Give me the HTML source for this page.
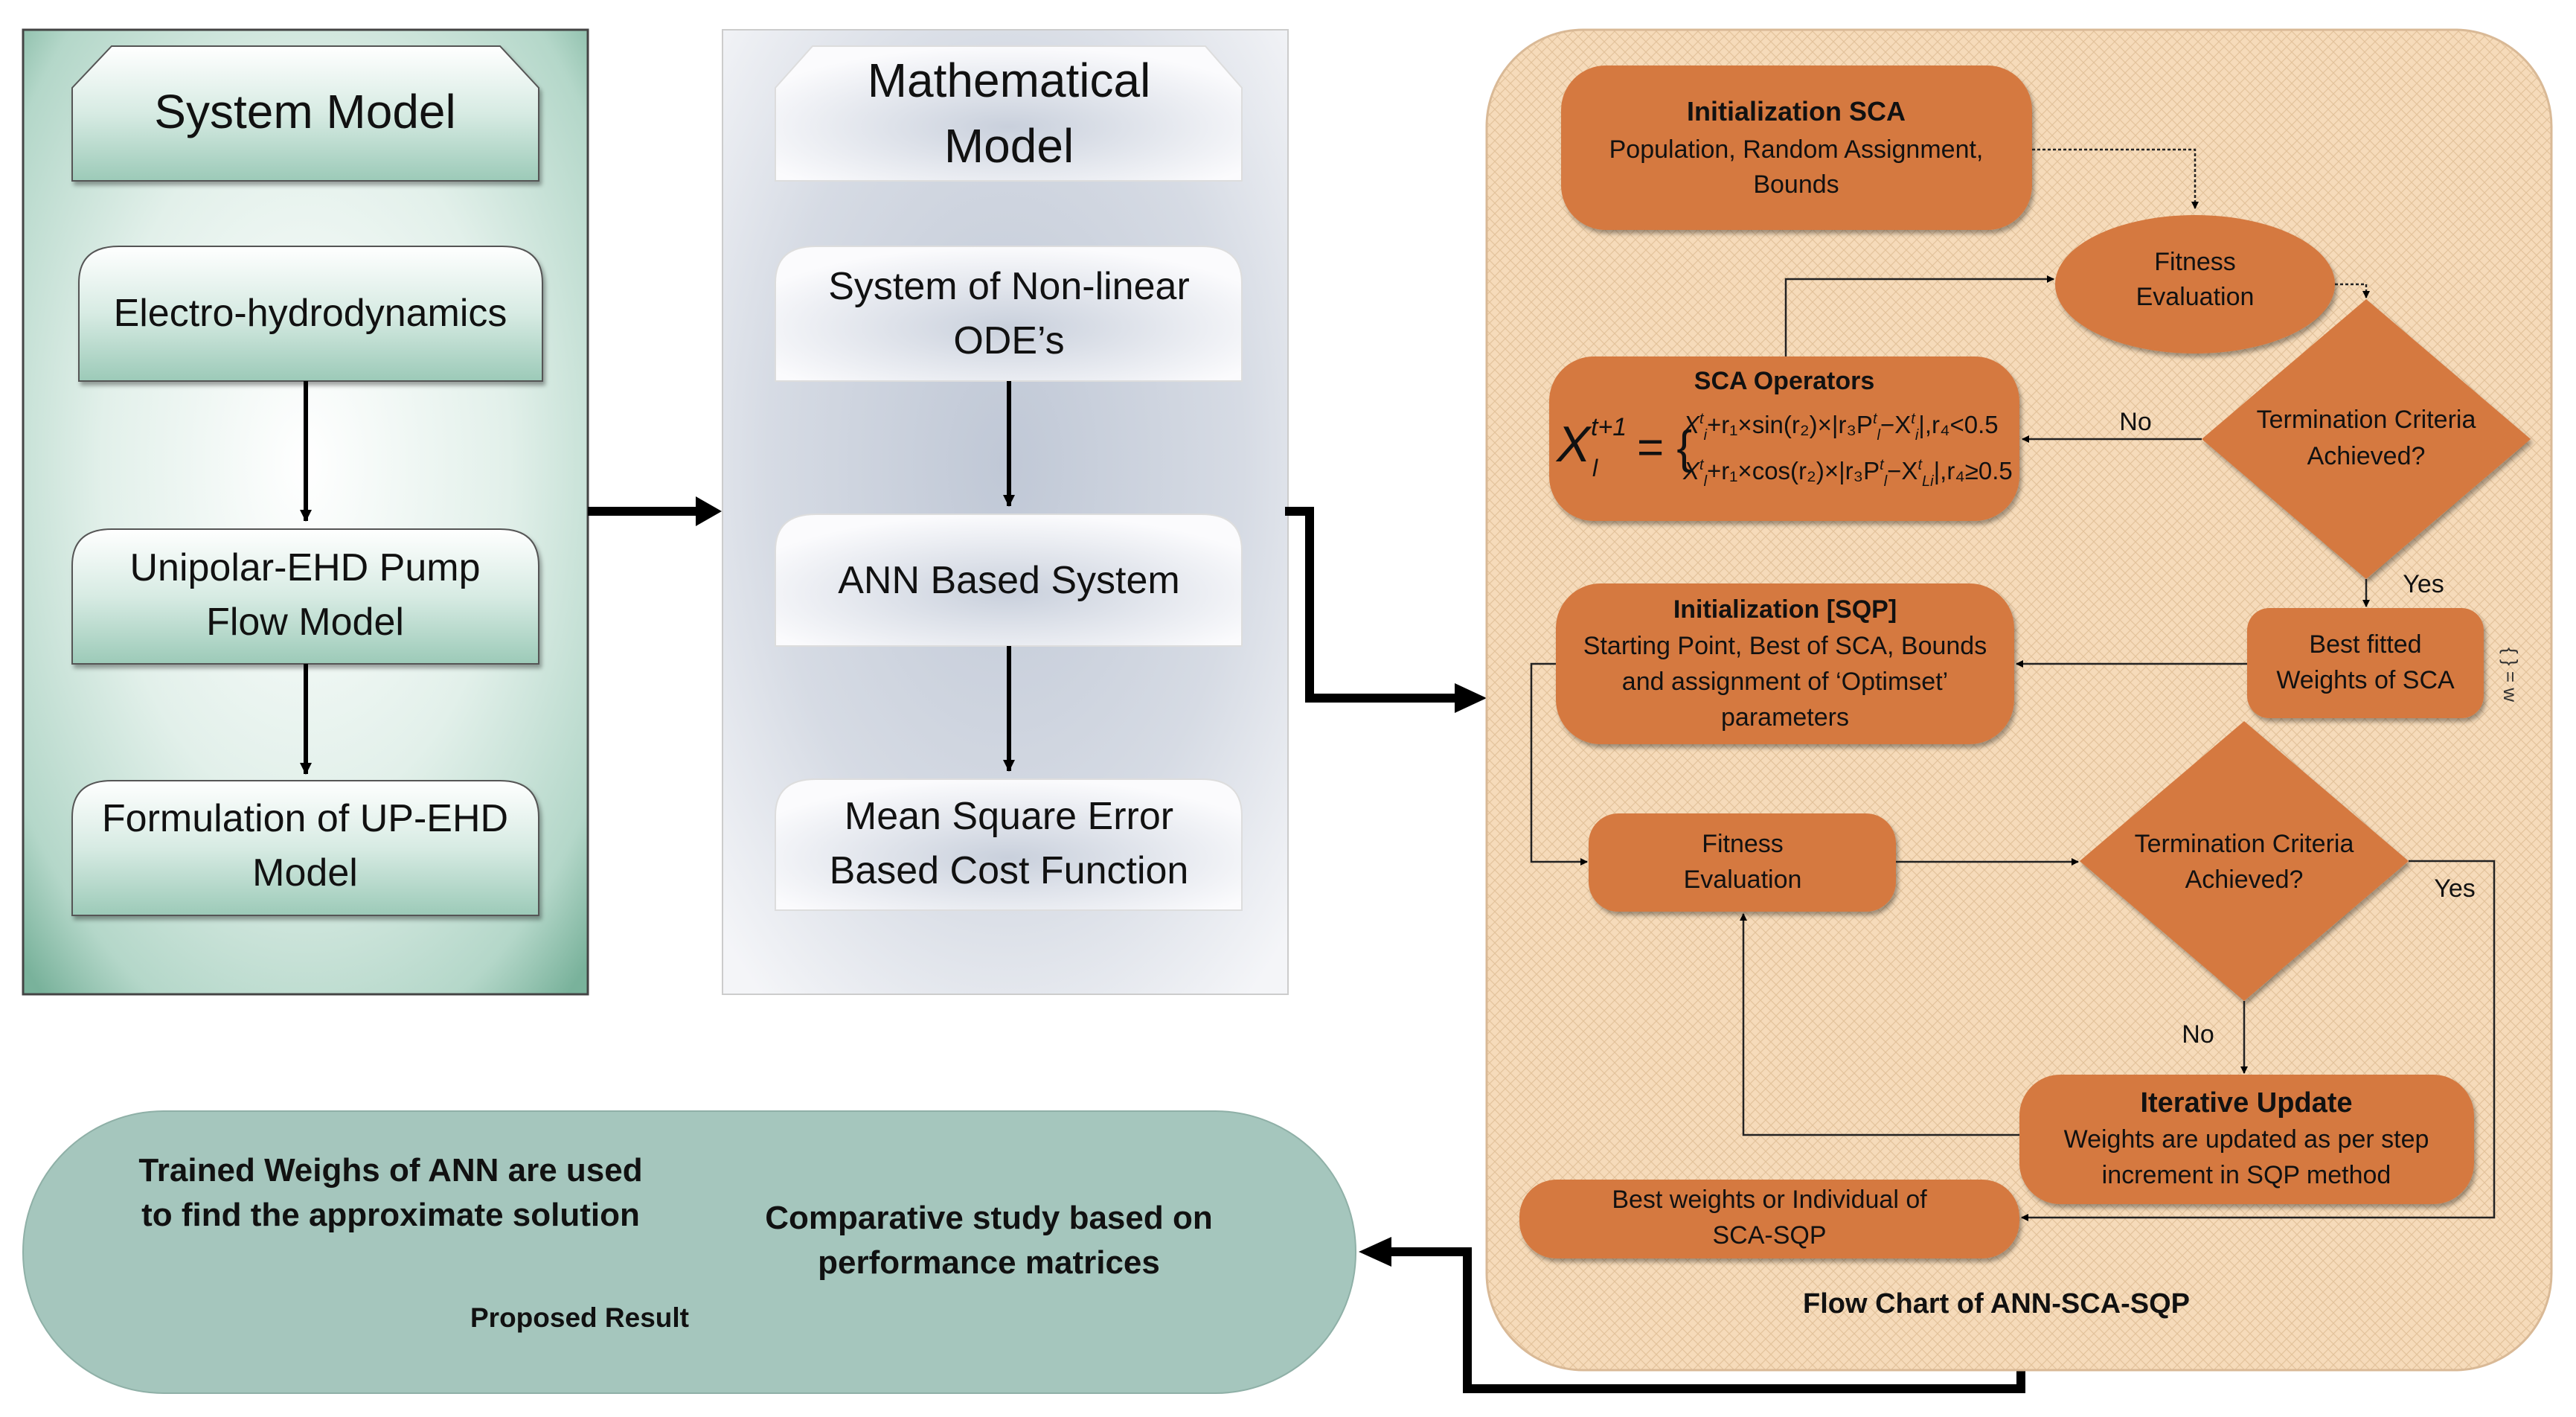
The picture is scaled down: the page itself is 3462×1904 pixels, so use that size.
<!DOCTYPE html>
<html><head><meta charset="utf-8"><style>
html,body{margin:0;padding:0;background:#fff}
svg{display:block}
text{font-family:"Liberation Sans",sans-serif}
</style></head><body>
<svg width="3462" height="1904" viewBox="0 0 3462 1904" xmlns="http://www.w3.org/2000/svg">
<defs>
<radialGradient id="gp" cx="50%" cy="45%" r="72%">
<stop offset="0" stop-color="#ffffff"/><stop offset="0.5" stop-color="#e2f0ea"/><stop offset="0.85" stop-color="#b4d7c9"/><stop offset="1" stop-color="#79b29b"/></radialGradient>
<linearGradient id="gb" x1="0" y1="0" x2="0" y2="1">
<stop offset="0" stop-color="#ffffff"/><stop offset="0.5" stop-color="#d7ebe3"/><stop offset="1" stop-color="#9ccab8"/></linearGradient>
<radialGradient id="mp" cx="50%" cy="45%" r="70%">
<stop offset="0" stop-color="#c0c8d6"/><stop offset="0.6" stop-color="#d6dbe4"/><stop offset="1" stop-color="#f4f5f8"/></radialGradient>
<radialGradient id="mb" cx="50%" cy="60%" r="60%">
<stop offset="0" stop-color="#c9d0dc"/><stop offset="1" stop-color="#fbfbfd"/></radialGradient>
<pattern id="hatch" width="14" height="14" patternUnits="userSpaceOnUse">
<rect width="14" height="14" fill="#f6dbba"/>
<path d="M0 0L14 14M14 0L0 14" stroke="#e3c39c" stroke-width="1.2"/></pattern>
<marker id="ah" markerWidth="10" markerHeight="10" refX="9" refY="5" orient="auto" markerUnits="userSpaceOnUse"><path d="M0 0L10 5L0 10Z" fill="#000"/></marker>
<marker id="ah2" markerWidth="16" markerHeight="16" refX="15" refY="8" orient="auto" markerUnits="userSpaceOnUse"><path d="M0 0L16 8L0 16Z" fill="#000"/></marker>
<filter id="sh" x="-5%" y="-5%" width="110%" height="120%"><feDropShadow dx="3" dy="5" stdDeviation="3" flood-color="#000" flood-opacity="0.35"/></filter>
</defs>

<rect x="31" y="40" width="759" height="1296" fill="url(#gp)" stroke="#444" stroke-width="3"/>
<g filter="url(#sh)" stroke="#555" stroke-width="2" fill="url(#gb)">
<path d="M97 243V118L150 62H672L724 118V243Z"/>
<path d="M106 512V380Q106 331 160 331H675Q729 331 729 380V512Z"/>
<path d="M97 892V760Q97 711 150 711H672Q724 711 724 760V892Z"/>
<path d="M97 1230V1098Q97 1049 150 1049H672Q724 1049 724 1098V1230Z"/>
</g>
<g font-size="64" text-anchor="middle" fill="#111">
<text x="410" y="172">System Model</text>
</g>
<g font-size="52" text-anchor="middle" fill="#111">
<text x="417" y="438">Electro-hydrodynamics</text>
<text x="410" y="780">Unipolar-EHD Pump</text>
<text x="410" y="853">Flow Model</text>
<text x="410" y="1117">Formulation of UP-EHD</text>
<text x="410" y="1190">Model</text>
</g>
<g stroke="#000" stroke-width="6" fill="none">
<line x1="411" y1="512" x2="411" y2="700" marker-end="url(#ah2)"/>
<line x1="411" y1="892" x2="411" y2="1040" marker-end="url(#ah2)"/>
</g>

<rect x="971" y="40" width="760" height="1296" fill="url(#mp)" stroke="#ccc" stroke-width="2"/>
<g fill="url(#mb)" stroke="#ddd" stroke-width="2">
<path d="M1042 243V118L1092 62H1620L1669 118V243Z"/>
<path d="M1042 512V380Q1042 331 1096 331H1615Q1669 331 1669 380V512Z"/>
<path d="M1042 868V740Q1042 691 1096 691H1615Q1669 691 1669 740V868Z"/>
<path d="M1042 1223V1096Q1042 1047 1096 1047H1615Q1669 1047 1669 1096V1223Z"/>
</g>
<g font-size="64" text-anchor="middle" fill="#111">
<text x="1356" y="130">Mathematical</text>
<text x="1356" y="218">Model</text>
</g>
<g font-size="52" text-anchor="middle" fill="#111">
<text x="1356" y="402">System of Non-linear</text>
<text x="1356" y="475">ODE’s</text>
<text x="1356" y="797">ANN Based System</text>
<text x="1356" y="1114">Mean Square Error</text>
<text x="1356" y="1187">Based Cost Function</text>
</g>
<g stroke="#000" stroke-width="6" fill="none">
<line x1="1356" y1="512" x2="1356" y2="680" marker-end="url(#ah2)"/>
<line x1="1356" y1="868" x2="1356" y2="1036" marker-end="url(#ah2)"/>
</g>

<g stroke="#000" stroke-width="12" fill="none" stroke-linejoin="miter">
<line x1="790" y1="687" x2="940" y2="687"/>
<polyline points="1727,687 1760,687 1760,938 1960,938"/>
<polyline points="2716,1838 2716,1866 1972,1866 1972,1682 1870,1682"/>
</g>
<path d="M935 667L970 687L935 707Z"/>
<path d="M1955 918L1998 938L1955 958Z"/>
<path d="M1870 1662L1826 1682L1870 1702Z"/>

<rect x="1998" y="40" width="1431" height="1801" rx="130" fill="url(#hatch)" stroke="#d9b996" stroke-width="3"/>

<g fill="#d5793f" filter="url(#sh)">
<rect x="2098" y="88" width="633" height="221" rx="60"/>
<ellipse cx="2950" cy="382" rx="188" ry="93"/>
<path d="M3180 402L3401 590L3180 778L2959 590Z"/>
<rect x="2082" y="479" width="632" height="221" rx="60"/>
<rect x="3020" y="817" width="318" height="148" rx="30"/>
<rect x="2091" y="784" width="616" height="216" rx="60"/>
<rect x="2135" y="1093" width="413" height="132" rx="40"/>
<path d="M3016 969L3237 1157L3016 1345L2795 1157Z"/>
<rect x="2714" y="1444" width="611" height="174" rx="55"/>
<rect x="2042" y="1585" width="672" height="106" rx="50"/>
</g>

<g font-size="34" text-anchor="middle" fill="#111">
<text x="2414" y="162" font-weight="bold" font-size="36">Initialization SCA</text>
<text x="2414" y="212">Population, Random Assignment,</text>
<text x="2414" y="259">Bounds</text>
<text x="2950" y="363">Fitness</text>
<text x="2950" y="410">Evaluation</text>
<text x="3180" y="575">Termination Criteria</text>
<text x="3180" y="624">Achieved?</text>
<text x="2398" y="523" font-weight="bold">SCA Operators</text>
<text x="3179" y="877">Best fitted</text>
<text x="3179" y="925">Weights of SCA</text>
<text x="2399" y="830" font-weight="bold">Initialization [SQP]</text>
<text x="2399" y="879">Starting Point, Best of SCA, Bounds</text>
<text x="2399" y="927">and assignment of ‘Optimset’</text>
<text x="2399" y="975">parameters</text>
<text x="2342" y="1145">Fitness</text>
<text x="2342" y="1193">Evaluation</text>
<text x="3016" y="1145">Termination Criteria</text>
<text x="3016" y="1193">Achieved?</text>
<text x="3019" y="1494" font-weight="bold" font-size="38">Iterative Update</text>
<text x="3019" y="1542">Weights are updated as per step</text>
<text x="3019" y="1590">increment in SQP method</text>
<text x="2378" y="1623">Best weights or Individual of</text>
<text x="2378" y="1671">SCA-SQP</text>
<text x="2683" y="1764" font-weight="bold" font-size="38">Flow Chart of ANN-SCA-SQP</text>
<text x="2870" y="578">No</text>
<text x="3257" y="796">Yes</text>
<text x="3299" y="1205">Yes</text>
<text x="2954" y="1401">No</text>
</g>
<g font-family="Liberation Serif" fill="#111" font-style="italic">
<text x="2092" y="620" font-size="68">X</text>
<text x="2138" y="585" font-size="34">t+1</text>
<text x="2140" y="640" font-size="32">l</text>
<text x="2200" y="622" font-size="62" font-style="normal">= {</text>
<text x="2262" y="582" font-size="33">X<tspan font-size="20" dy="-13">t</tspan><tspan font-size="20" dy="22">i</tspan><tspan dy="-9" font-style="normal">+r₁×sin(r₂)×|r₃P</tspan><tspan font-size="20" dy="-13">t</tspan><tspan font-size="20" dy="22">l</tspan><tspan dy="-9" font-style="normal">−X</tspan><tspan font-size="20" dy="-13">t</tspan><tspan font-size="20" dy="22">i</tspan><tspan dy="-9" font-style="normal">|,r₄&lt;0.5</tspan></text>
<text x="2262" y="644" font-size="33">X<tspan font-size="20" dy="-13">t</tspan><tspan font-size="20" dy="22">l</tspan><tspan dy="-9" font-style="normal">+r₁×cos(r₂)×|r₃P</tspan><tspan font-size="20" dy="-13">t</tspan><tspan font-size="20" dy="22">l</tspan><tspan dy="-9" font-style="normal">−X</tspan><tspan font-size="20" dy="-13">t</tspan><tspan font-size="20" dy="22">Li</tspan><tspan dy="-9" font-style="normal">|,r₄≥0.5</tspan></text>
</g>
<text x="3365" y="870" font-size="26" fill="#333" font-family="Liberation Serif" transform="rotate(90 3365 870)">{ }  =  w</text>

<g stroke="#222" stroke-width="2.5" fill="none">
<polyline points="2731,201 2950,201 2950,280" stroke-dasharray="4,3" marker-end="url(#ah)"/>
<polyline points="3138,382 3180,382 3180,400" stroke-dasharray="4,3" marker-end="url(#ah)"/>
<line x1="2959" y1="590" x2="2718" y2="590" marker-end="url(#ah)"/>
<polyline points="2400,479 2400,375 2760,375" marker-end="url(#ah)"/>
<line x1="3180" y1="778" x2="3180" y2="815" marker-end="url(#ah)"/>
<line x1="3020" y1="892" x2="2710" y2="892" marker-end="url(#ah)"/>
<polyline points="2091,892 2058,892 2058,1158 2133,1158" marker-end="url(#ah)"/>
<line x1="2548" y1="1158" x2="2793" y2="1158" marker-end="url(#ah)"/>
<polyline points="3237,1157 3352,1157 3352,1636 2717,1636" marker-end="url(#ah)"/>
<line x1="3016" y1="1345" x2="3016" y2="1442" marker-end="url(#ah)"/>
<polyline points="2714,1525 2343,1525 2343,1228" marker-end="url(#ah)"/>
</g>

<rect x="31" y="1493" width="1791" height="379" rx="189" fill="#a5c6bd" stroke="#8fb0a7" stroke-width="2"/>
<g font-size="44" font-weight="bold" text-anchor="middle" fill="#111">
<text x="525" y="1587">Trained Weighs of ANN are used</text>
<text x="525" y="1647">to find the approximate solution</text>
<text x="1329" y="1651">Comparative study based on</text>
<text x="1329" y="1711">performance matrices</text>
<text x="779" y="1783" font-size="37">Proposed Result</text>
</g>
</svg>
</body></html>
